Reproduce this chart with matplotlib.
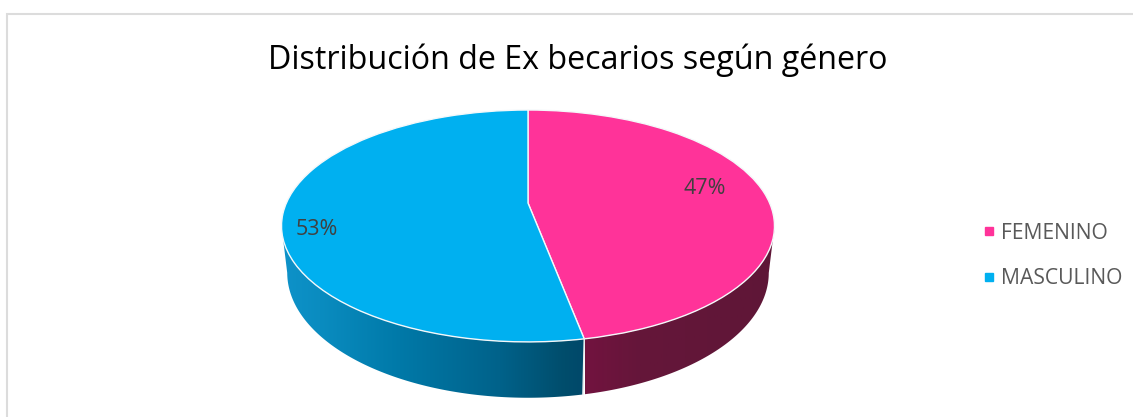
#! /usr/bin/python3
import numpy as np
import matplotlib
matplotlib.use("Agg")
import matplotlib.pyplot as plt
from matplotlib.colors import to_rgb
from matplotlib.lines import Line2D
from matplotlib.patches import Polygon
from matplotlib.transforms import Transform

categories = ["FEMENINO", "MASCULINO"]
values = [47, 53]
colors = ["#FF3399", "#00B0F0"]
title = "Distribución de Ex becarios según género"

# wall shading, x pixel -> colour, one list per slice
wall_x = [[585, 640, 775], [283, 320, 400, 500, 565, 585]]
wall_colors = [["#72133F", "#65163A", "#5F1637"],
               ["#0E92C9", "#0A8CC0", "#0079A8", "#00628A", "#004D6C", "#00486A"]]
label_xy = [(705, 188), (317, 229.5)]

kPersp = 0.198
kCenterX = 528


# unit disc -> pixel position, far side of the disc looks smaller
class DiscProjection(Transform):
  input_dims = 2
  output_dims = 2
  is_affine = False

  def __init__(self, a, b, cy):
    Transform.__init__(self)
    self.a = a
    self.b = b
    self.cy = cy

  def transform_non_affine(self, values):
    values = np.asarray(values, dtype=float)
    w = 1 + kPersp*values[:, 1]
    x = kCenterX + self.a*values[:, 0]/w
    y = self.cy - self.b*values[:, 1]/w
    return np.column_stack([x, y])


top_disc = DiscProjection(241.6, 111.4, 203)
bottom_disc = DiscProjection(236, 120.1, 248)


def DiscPoints(disc, angles):
  rad = np.radians(angles)
  return disc.transform_non_affine(np.column_stack([np.cos(rad), np.sin(rad)]))


def DrawWall(ax, wedge, xs, cols):
  rgb = np.array([to_rgb(c) for c in cols])
  angles = np.linspace(wedge.theta1, wedge.theta2, 721)
  # only the part in front of the widest point of the disc shows
  angles = angles[np.sin(np.radians(angles)) <= -kPersp]
  upper = DiscPoints(top_disc, angles)
  lower = DiscPoints(bottom_disc, angles)
  outline = Polygon(np.vstack([upper, lower[::-1]]), closed=True, transform=ax.transData, fc='none', ec='none')
  ax.add_patch(outline)
  grad_x = np.arange(xs[0], xs[-1] + 1)
  grad = np.stack([np.interp(grad_x, xs, rgb[:, k]) for k in range(3)], axis=-1)[np.newaxis, :, :]
  im = ax.imshow(grad, extent=(xs[0], xs[-1], 417, 0), aspect='auto', interpolation='bilinear', zorder=1)
  im.set_clip_path(outline)


plt.rcParams['font.family'] = ['Open Sans', 'DejaVu Sans']
fig = plt.figure(figsize=(11.33, 4.17), dpi=100)
ax = fig.add_axes([0, 0, 1, 1])

wedges, texts, autotexts = ax.pie(values, colors=colors, startangle=90, counterclock=False,
                                  autopct='%.0f%%',
                                  wedgeprops={'edgecolor': '#F4F8FA', 'linewidth': 1.0})
ax.set_aspect('auto')
ax.set_xlim(0, 1133)
ax.set_ylim(417, 0)
ax.axis('off')

for i in range(len(wedges)):
  wedges[i].set_transform(top_disc + ax.transData)
  wedges[i].set_zorder(2)
  DrawWall(ax, wedges[i], wall_x[i], wall_colors[i])
  autotexts[i].set_position(label_xy[i])
  autotexts[i].set_color('#404040')
  autotexts[i].set_fontsize(15.5)
  autotexts[i].set_zorder(3)
ax.set_xlim(0, 1133)
ax.set_ylim(417, 0)

# seam between the slices on the front wall
seam_angle = [wedges[0].theta1]
seam_top = DiscPoints(top_disc, seam_angle)[0]
seam_bottom = DiscPoints(bottom_disc, seam_angle)[0]
ax.plot([seam_top[0], seam_bottom[0]], [seam_top[1], seam_bottom[1]], color='#E8EEF0', lw=1.0, zorder=2)

# chart frame, only top and left are in view
ax.plot([7, 7, 1133], [417, 14, 14], color='#DCDCDC', lw=1.5, zorder=0, solid_joinstyle='miter')

ax.text(578, 60.5, title, fontsize=23.25, color='black', ha='center', va='center')

handles = [Line2D([], [], ls='none', marker='s', ms=5.8, color=c) for c in colors]
ax.legend(handles, categories, loc='center left', bbox_to_anchor=(978/1133, 1 - 256/417),
          frameon=False, fontsize=15.25, labelcolor='#595959', handlelength=1.0, handletextpad=0.1,
          labelspacing=1.16, borderpad=0, borderaxespad=0)

fig.savefig("out.png", dpi=100)
